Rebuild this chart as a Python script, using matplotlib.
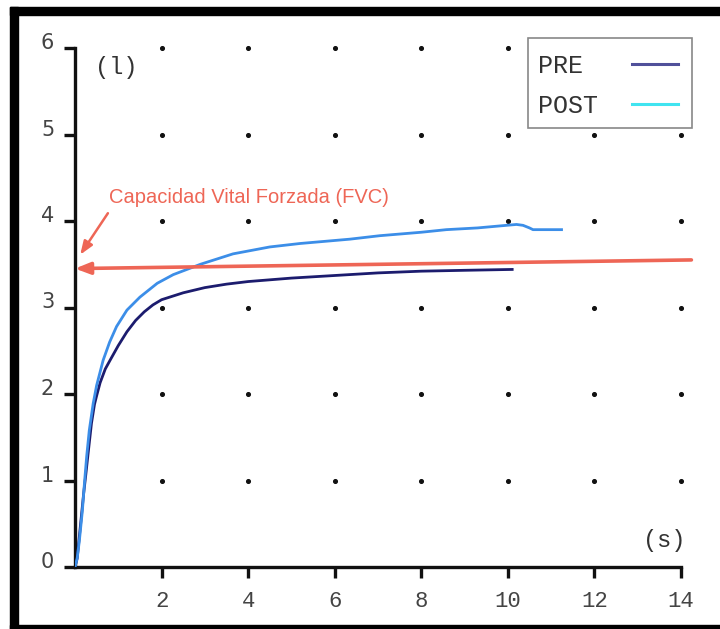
import matplotlib.pyplot as plt
from matplotlib.lines import Line2D
from matplotlib.patches import Rectangle
from matplotlib.transforms import ScaledTranslation

# Spirometry curves, volume (l) against time (s)
pre_t = [0, 0.05, 0.1, 0.15, 0.2, 0.25, 0.3, 0.38, 0.45, 0.5, 0.58, 0.7,
         0.81, 1.0, 1.2, 1.4, 1.6, 1.8, 2.0, 2.5, 3.0, 3.5, 4.0, 5.0, 6.0,
         7.0, 8.0, 9.0, 10.1]
pre_v = [0, 0.1, 0.35, 0.6, 0.85, 1.07, 1.3, 1.66, 1.88, 1.98, 2.13, 2.29,
         2.39, 2.56, 2.72, 2.85, 2.95, 3.03, 3.09, 3.17, 3.23, 3.27, 3.30,
         3.34, 3.37, 3.40, 3.42, 3.43, 3.44]

post_t = [0, 0.05, 0.1, 0.17, 0.22, 0.27, 0.33, 0.42, 0.5, 0.65, 0.8, 0.96,
          1.2, 1.5, 1.9, 2.27, 2.9, 3.65, 4.5, 5.2, 6.35, 7.04, 8.0, 8.58,
          9.3, 9.97, 10.2, 10.35, 10.5, 10.58, 10.8, 11.24]
post_v = [0, 0.1, 0.3, 0.65, 0.98, 1.28, 1.58, 1.89, 2.1, 2.39, 2.6, 2.78,
          2.97, 3.12, 3.28, 3.38, 3.50, 3.62, 3.70, 3.74, 3.79, 3.83, 3.87,
          3.90, 3.92, 3.95, 3.96, 3.95, 3.92, 3.90, 3.90, 3.90]

# FVC reference line end points
fvc_t = [0, 14.24]
fvc_v = [3.45, 3.55]

x_ticks = [2, 4, 6, 8, 10, 12, 14]
y_ticks = [0, 1, 2, 3, 4, 5, 6]
dot_x = [2, 4, 6, 8, 10, 12, 14]
dot_y = [1, 2, 3, 4, 5, 6]

series_names = ["PRE", "POST"]
legend_colors = ["#50509a", "#40e4f0"]

fig = plt.figure(figsize=(7.2, 6.29), dpi=100)
ax = fig.add_axes([75 / 720, 62 / 629, 606 / 720, 519 / 629])
ax.set_xlim(0, 14)
ax.set_ylim(0, 6)

# dotted grid
gx = [x for y in dot_y for x in dot_x]
gy = [y for y in dot_y for x in dot_x]
ax.scatter(gx, gy, s=7, color="#111111", zorder=1, clip_on=False)

ax.plot(pre_t, pre_v, color="#1c1c6e", lw=2.0, zorder=3)
ax.plot(post_t, post_v, color="#3c8ee8", lw=2.0, zorder=3)

red = "#ee6656"
ax.annotate("", xy=(fvc_t[0], fvc_v[0]), xytext=(fvc_t[1], fvc_v[1]),
            arrowprops=dict(arrowstyle="-|>,head_length=0.9,head_width=0.35",
                            color=red, lw=2.6, shrinkA=0, shrinkB=0),
            annotation_clip=False, zorder=4)
ax.annotate("", xy=(0.12, 3.61), xytext=(0.76, 4.09),
            arrowprops=dict(arrowstyle="-|>,head_length=0.8,head_width=0.3",
                            color=red, lw=1.8, shrinkA=0, shrinkB=0),
            annotation_clip=False, zorder=4)
ax.text(0.78, 4.27, "Capacidad Vital Forzada (FVC)", color=red,
        fontsize=14.5, family="Liberation Sans", ha="left", va="center")

ax.text(0.46, 5.77, "(l)", family="Liberation Mono", fontsize=17,
        color="#333333", ha="left", va="center")
ax.text(14.1, 0.31, "(s)", family="Liberation Mono", fontsize=17,
        color="#333333", ha="right", va="center")

# axes styling
for side in ["top", "right"]:
    ax.spines[side].set_visible(False)
for side in ["left", "bottom"]:
    ax.spines[side].set_linewidth(2.4)
    ax.spines[side].set_color("#111111")
ax.set_xticks(x_ticks)
ax.set_yticks(y_ticks)
ax.tick_params(axis="both", direction="out", length=8, width=2.4,
               color="#111111", labelcolor="#444444")
ax.tick_params(axis="x", pad=9, labelsize=16)
ax.tick_params(axis="y", pad=7, labelsize=15)
for lab in ax.get_xticklabels():
    lab.set_family("Liberation Mono")
for lab in ax.get_yticklabels():
    lab.set_family("DejaVu Sans")
    lab.set_transform(lab.get_transform() +
                      ScaledTranslation(0, 0.07, fig.dpi_scale_trans))

# legend box drawn by hand: label on the left, line on the right
fig.patches.append(Rectangle((528 / 720, 501 / 629), 164 / 720, 90 / 629,
                             transform=fig.transFigure, facecolor="white",
                             edgecolor="#888888", lw=1.2, zorder=5))
for i, (name, col) in enumerate(zip(series_names, legend_colors)):
    yy = (563 - 40 * i) / 629
    fig.text(538 / 720, yy, name, family="Liberation Mono", fontsize=18,
             color="#333333", ha="left", va="center", zorder=6)
    fig.add_artist(Line2D([632 / 720, 678 / 720], [yy + 2 / 629, yy + 2 / 629],
                          transform=fig.transFigure, color=col, lw=2.2,
                          zorder=6))

# black frame around the picture
for (x0, y0, w, h) in [(10, 614, 710, 8), (10, 0, 8, 622), (10, 0, 710, 4)]:
    fig.patches.append(Rectangle((x0 / 720, y0 / 629), w / 720, h / 629,
                                 transform=fig.transFigure, color="black",
                                 zorder=10))

fig.savefig("out.png", dpi=100)
